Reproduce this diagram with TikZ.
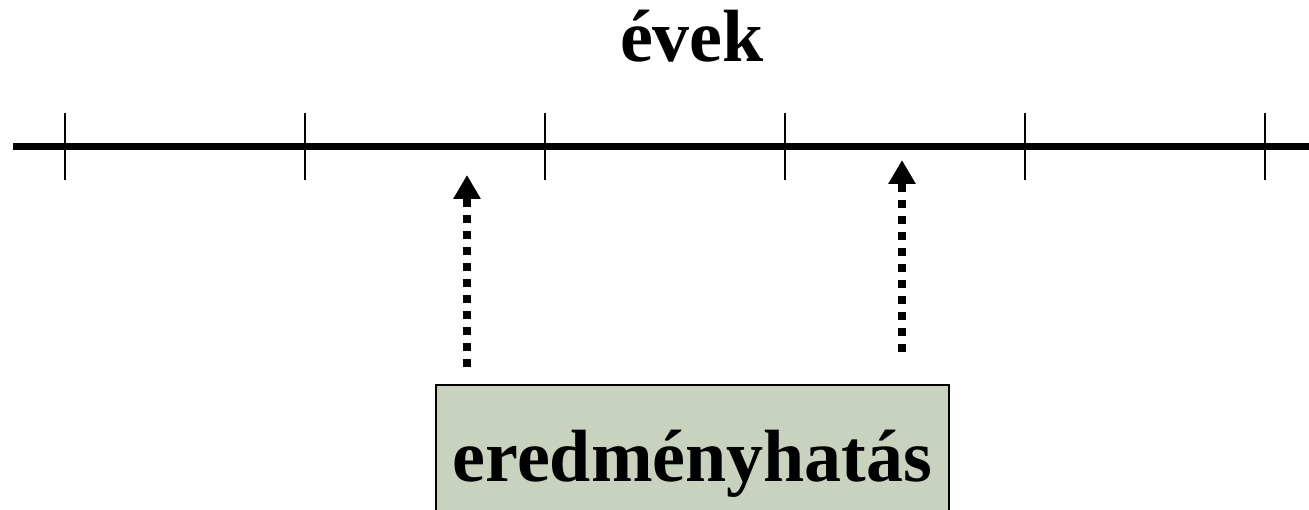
\documentclass[tikz,border=0pt]{standalone}
\usepackage{fontspec}
\setmainfont{Liberation Serif}
\usetikzlibrary{arrows.meta}
\definecolor{boxgreen}{RGB}{200,210,190}
\tikzset{
  axisline/.style={line width=7pt},
  tickline/.style={line width=2.5pt},
  dotarrow/.style={line width=7.5pt, dash pattern=on 7.5pt off 8.5pt,
    -{Triangle[width=26pt,length=24pt]}},
  resultbox/.style={draw, line width=2pt, fill=boxgreen, inner sep=0pt,
    minimum width=513pt, text height=96pt, text depth=50pt, anchor=north west,
    font=\bfseries\fontsize{74}{80}\selectfont},
  titlelabel/.style={font=\bfseries\fontsize{74}{80}\selectfont, anchor=base, inner sep=0pt}
}
\begin{document}
\begin{tikzpicture}[x=1pt,y=-1pt]
\clip (0,0) rectangle (1309,510);
\fill[white] (0,0) rectangle (1309,510);
\node[titlelabel] (title) at (692,62) {évek};
\coordinate (axL) at (13,147);
\coordinate (axR) at (1309,147);
\draw[axisline] (axL) -- (axR);
\foreach \x [count=\i] in {65,305,545,785,1025,1265}{
  \coordinate (t\i a) at (\x,113);
  \coordinate (t\i b) at (\x,180);
  \draw[tickline] (t\i a) -- (t\i b);
}
\node[resultbox] (box) at (435,384) {eredményhatás};
\coordinate (a1s) at (467,367);
\coordinate (a1e) at (467,175);
\coordinate (a2s) at (902,352);
\coordinate (a2e) at (902,160);
\draw[dotarrow] (a1s) -- (a1e);
\draw[dotarrow] (a2s) -- (a2e);
\end{tikzpicture}
\end{document}
